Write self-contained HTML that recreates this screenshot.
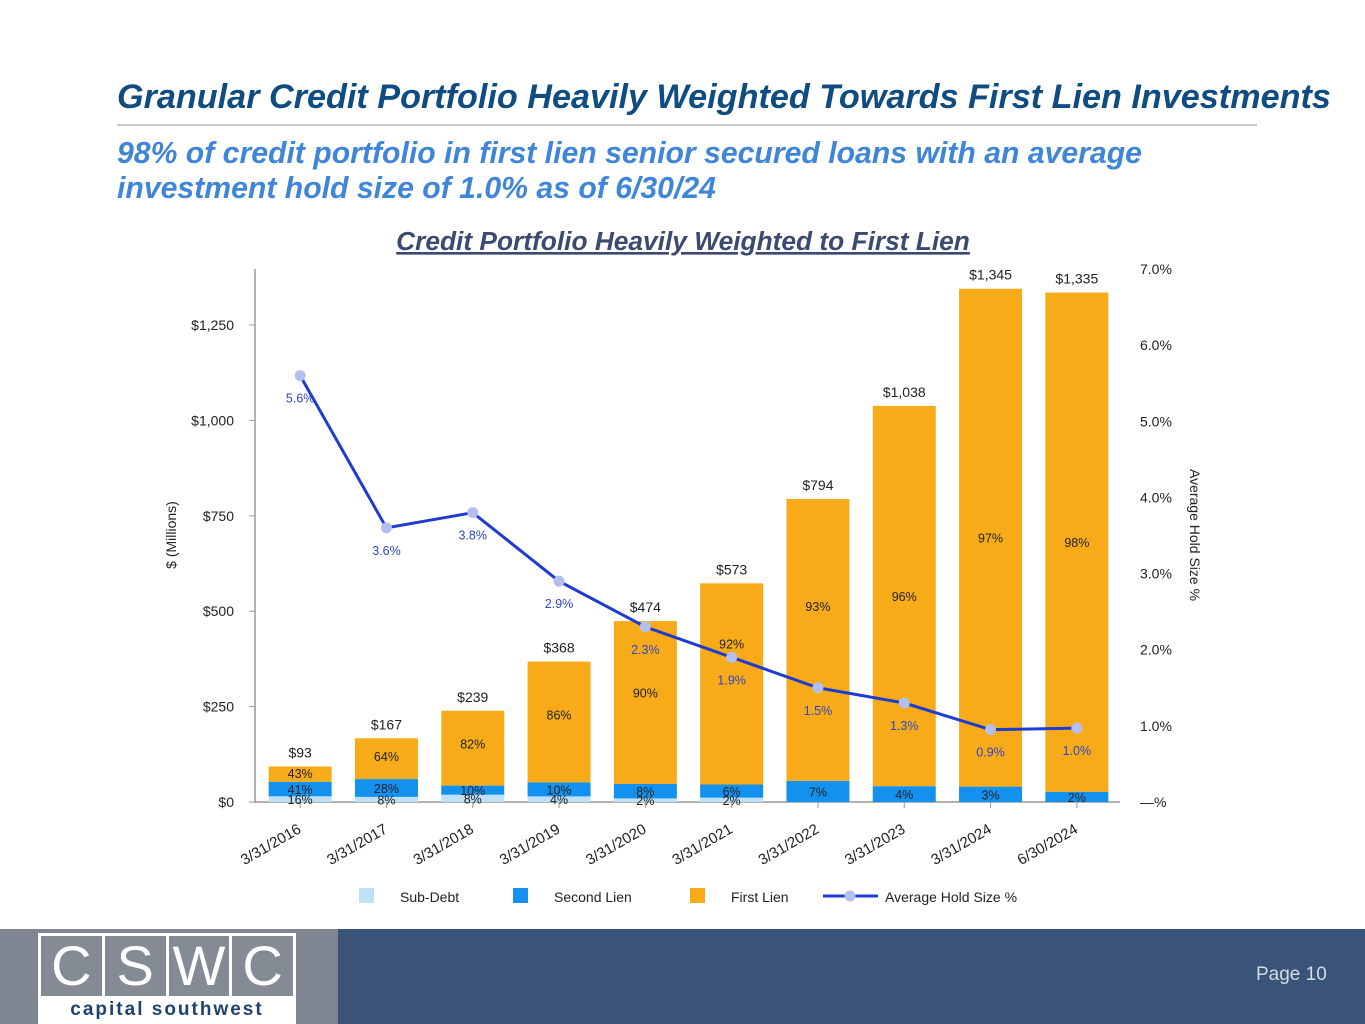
<!DOCTYPE html>
<html><head><meta charset="utf-8"><style>
body{margin:0;width:1365px;height:1024px;position:relative;background:#fff;font-family:"Liberation Sans",Arial,sans-serif;overflow:hidden}
.t{position:absolute;white-space:nowrap}
</style></head><body>
<div class="t" style="left:117px;top:78px;font-size:34.2px;font-weight:bold;font-style:italic;color:#0f4c81">Granular Credit Portfolio Heavily Weighted Towards First Lien Investments</div>
<div style="position:absolute;left:117px;top:124px;width:1140px;height:2px;background:#c8c8c8"></div>
<div class="t" style="left:117px;top:136px;font-size:30.2px;line-height:35px;font-weight:bold;font-style:italic;color:#3f86d8">98% of credit portfolio in first lien senior secured loans with an average<br>investment hold size of 1.0% as of 6/30/24</div>
<svg id="chart" width="1365" height="920" style="position:absolute;left:0;top:0" font-family="Liberation Sans, Arial, sans-serif"></svg>
<div style="position:absolute;left:0;top:929px;width:338px;height:95px;background:#7f8692"></div>
<div style="position:absolute;left:338px;top:929px;width:1027px;height:95px;background:#3a5479"></div>
<div style="position:absolute;left:38px;top:933px;width:258px;height:91px;background:#fff">
 <div style="position:absolute;left:3px;top:3px;width:252px;height:60px;display:flex;gap:3px">
  <div style="flex:1;background:#858b94;color:#fff;font-size:56px;text-align:center;line-height:60px">C</div>
  <div style="flex:1;background:#858b94;color:#fff;font-size:56px;text-align:center;line-height:60px">S</div>
  <div style="flex:1;background:#858b94;color:#fff;font-size:56px;text-align:center;line-height:60px">W</div>
  <div style="flex:1;background:#858b94;color:#fff;font-size:56px;text-align:center;line-height:60px">C</div>
 </div>
 <div style="position:absolute;left:0;width:258px;top:66px;text-align:center;font-size:19px;font-weight:bold;letter-spacing:2px;color:#1f4270">capital southwest</div>
</div>
<div class="t" style="left:1256px;top:964px;font-size:19px;color:#d5dbe5">Page 10</div>
<script>
const categories=["3/31/2016","3/31/2017","3/31/2018","3/31/2019","3/31/2020","3/31/2021","3/31/2022","3/31/2023","3/31/2024","6/30/2024"];
const totals=[93,167,239,368,474,573,794,1038,1345,1335];
const totalLabels=["$93","$167","$239","$368","$474","$573","$794","$1,038","$1,345","$1,335"];
const subDebtPct=[16,8,8,4,2,2,0,0,0,0];
const secondLienPct=[41,28,10,10,8,6,7,4,3,2];
const firstLienPct=[43,64,82,86,90,92,93,96,97,98];
const holdSize=[5.6,3.6,3.8,2.9,2.3,1.9,1.5,1.3,0.95,0.97];
const holdLabels=["5.6%","3.6%","3.8%","2.9%","2.3%","1.9%","1.5%","1.3%","0.9%","1.0%"];
const leftTicks=[0,250,500,750,1000,1250];
const leftTickLabels=["$0","$250","$500","$750","$1,000","$1,250"];
const rightTicks=[0,1,2,3,4,5,6,7];
const rightTickLabels=["—%","1.0%","2.0%","3.0%","4.0%","5.0%","6.0%","7.0%"];

const svg=document.getElementById('chart');
const NS='http://www.w3.org/2000/svg';
const X0=257,BAND=86.3,BW=63,Y0=802;
const y=v=>Y0-v*(477/1250);
const yr=v=>Y0-v*(533/7);
const xc=i=>X0+BAND*(i+0.5);
function mk(tag,a,txt){const e=document.createElementNS(NS,tag);for(const k in a)e.setAttribute(k,a[k]);if(txt!=null)e.textContent=txt;svg.appendChild(e);return e;}

let e=mk('text',{x:683,y:250,'text-anchor':'middle','font-size':26.3,'font-weight':'bold','font-style':'italic',fill:'#3b4a6e','text-decoration':'underline'},'Credit Portfolio Heavily Weighted to First Lien');


e=mk('line',{x1:255,y1:269,x2:255,y2:803,stroke:'#999','stroke-width':1.5});


e=mk('line',{x1:255,y1:802,x2:1120,y2:802,stroke:'#999','stroke-width':1.5});


leftTicks.forEach((t,i)=>{
 const l=mk('line',{x1:249,x2:255,y1:y(t),y2:y(t),stroke:'#999'});
 
 
 const tx=mk('text',{x:234,y:y(t)+5,'text-anchor':'end','font-size':14,fill:'#222'},leftTickLabels[i]);
 
 
});
rightTicks.forEach((t,i)=>{
 const tx=mk('text',{x:1140,y:yr(t)+5,'font-size':14,fill:'#222'},rightTickLabels[i]);
 
 
});
e=mk('text',{transform:'translate(176,535) rotate(-90)','text-anchor':'middle','font-size':14,fill:'#222'},'$ (Millions)');


e=mk('text',{transform:'translate(1190,535) rotate(90)','text-anchor':'middle','font-size':14,fill:'#222'},'Average Hold Size %');



categories.forEach((c,i)=>{
 const cx=xc(i),x=cx-BW/2,tot=totals[i];
 const hs=tot*subDebtPct[i]/100,h2=tot*secondLienPct[i]/100,h1=tot-hs-h2;
 const segs=[[0,hs,'#bfe1f7','bar-sub-debt'],[hs,h2,'#1391ee','bar-second-lien'],[hs+h2,h1,'#f8ab18','bar-first-lien']];
 segs.forEach(s=>{if(s[1]<=0)return;
  const r=mk('rect',{x:x,y:y(s[0]+s[1]),width:BW,height:y(s[0])-y(s[0]+s[1]),fill:s[2]});
  
  
 });
 const tk=mk('line',{x1:cx,x2:cx,y1:802,y2:808,stroke:'#999'});
 
 
 let t=mk('text',{x:cx,y:y(tot)-9,'text-anchor':'middle','font-size':14,fill:'#222'},totalLabels[i]);
 
 
 const labs=[];
 if(subDebtPct[i]>0)labs.push([subDebtPct[i],Math.max(y(hs/2)+5,y(0)-2)]);
 labs.push([secondLienPct[i],(subDebtPct[i]>0?y(hs+h2/2)+5:y(h2/2)+5)]);
 const f=tot>1000?0.5:tot>700?0.62:tot>500?0.7:0.56;
 labs.push([firstLienPct[i],y(hs+h2+h1*f)+5]);
 labs.forEach((l,k)=>{
  t=mk('text',{x:cx,y:l[1],'text-anchor':'middle','font-size':12.5,fill:'#222'},l[0]+'%');
  
  
 });
 t=mk('text',{transform:`translate(${cx+2},${832}) rotate(-30)`,'text-anchor':'end','font-size':15,fill:'#222'},c);
 
 
});
const pts=holdSize.map((v,i)=>xc(i)+','+yr(v)).join(' ');
e=mk('polyline',{points:pts,fill:'none',stroke:'#1f3cd1','stroke-width':3});


holdSize.forEach((v,i)=>{
 const c=mk('circle',{cx:xc(i),cy:yr(v),r:5.5,fill:'#b3bfee'});
 
 
 const t=mk('text',{x:xc(i),y:yr(v)+27,'text-anchor':'middle','font-size':12.5,fill:'#2c46c8'},holdLabels[i]);
 
 
});
const legend=[[359,'#bfe1f7','Sub-Debt','legend-sub-debt'],[513,'#1391ee','Second Lien','legend-second-lien'],[690,'#f8ab18','First Lien','legend-first-lien']];
legend.forEach(l=>{
 const r=mk('rect',{x:l[0],y:888,width:15,height:15,fill:l[1]});
 
 
 const t=mk('text',{x:l[0]+41,y:902,'font-size':14,fill:'#222'},l[2]);
 
 
});
e=mk('line',{x1:823,x2:878,y1:896,y2:896,stroke:'#1f3cd1','stroke-width':3});


e=mk('circle',{cx:850,cy:896,r:5.5,fill:'#b3bfee'});


e=mk('text',{x:885,y:902,'font-size':14,fill:'#222'},'Average Hold Size %');


</script>
</body></html>
